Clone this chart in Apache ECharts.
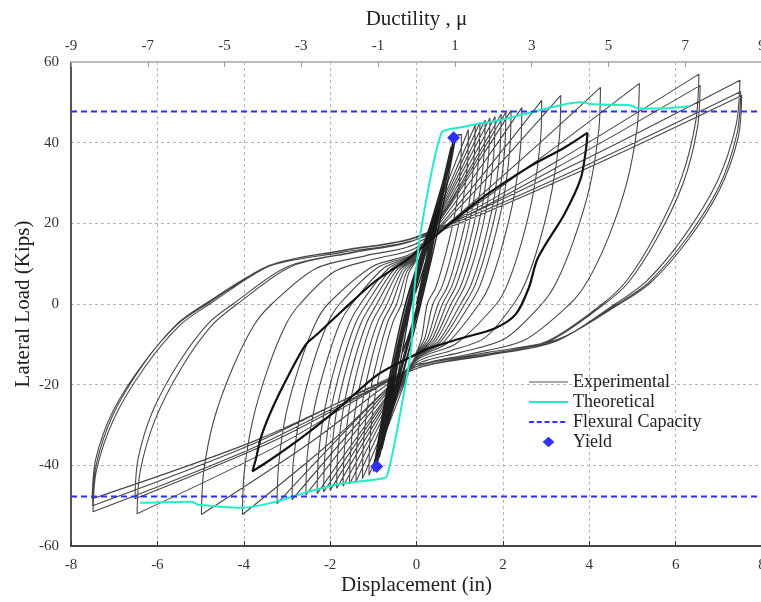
<!DOCTYPE html>
<html><head><meta charset="utf-8">
<script src="https://cdn.jsdelivr.net/npm/echarts@6/dist/echarts.min.js"></script>
<style>html,body{margin:0;padding:0;background:#fff}#c{width:761px;height:602px}</style>
</head><body><div id="c"></div>
<script>
// x tick labels (bottom, displacement) and top (ductility), y ticks
const dispTicks = [-8,-6,-4,-2,0,2,4,6,8];
const ductTicks = [-9,-7,-5,-3,-1,1,3,5,7,9];
const loadTicks = [-60,-40,-20,0,20,40,60];

// Experimental: elastic cycles (displacement in, load kips)
const elasticCycles = [
[0,0],[0.12,6],[0.25,12],[0.05,5],[-0.13,0],[-0.32,-12],[-0.1,-5],[0.02,0],[0.2,10],[0.4,20],[0.12,9],[-0.12,0],[-0.3,-10],[-0.47,-20],[-0.2,-9],[0.02,0],
[0.3,14],[0.55,28],[0.25,14],[-0.14,0],[-0.42,-14],[-0.62,-28],[-0.32,-14],[0.02,0],[0.35,17],[0.67,33],[0.3,17],[-0.15,0],[-0.47,-17],[-0.74,-33],[-0.38,-17],[0.03,0],
[0.4,19],[0.76,37],[0.33,18],[-0.16,0],[-0.5,-18],[-0.8,-36],[-0.4,-18],[0.02,0],[0.42,20],[0.8,39],[0.35,19],[-0.17,0],[-0.54,-19],[-0.86,-38],[-0.43,-19],[0.03,0],
[0.45,21],[0.85,40.5],[0.37,20],[-0.17,0],[-0.56,-20],[-0.92,-40],[-0.45,-20],[0.04,0],[0.47,21],[0.87,41],[0.38,20],[-0.18,0],[-0.58,-20],[-0.95,-41],[-0.45,-20],[0.05,0],
[0.46,21],[0.86,40.8],[0.36,20],[-0.19,0],[-0.6,-20],[-0.97,-41.3],[-0.47,-20],[0.04,0],
[0.4,18],[0.8,38],[0.32,18],[-0.2,0],[-0.6,-19],[-0.9,-39],[-0.42,-19],[0.06,0],[0.44,19],[0.84,40],[0.34,19],[-0.2,0],[-0.62,-20],[-0.93,-40],[-0.44,-20],[0.06,0],
[0.42,17],[0.86,40],[0.3,18],[-0.25,0],[-0.66,-20],[-0.96,-40.5],[-0.38,-20],[0.1,0],[0.55,21],[0.9,41],[0.3,19],[-0.26,0],[-0.68,-21],[-1.0,-41.5],[-0.4,-20],[0.1,0],
[0.5,21],[0.9,41.5],[0.36,20],[-0.21,0],[-0.63,-20],[-0.98,-41.5],[-0.46,-20],[0.07,0],[0.5,22],[0.88,41.5],[1.04,42]
];
// Experimental: post-yield cycles with growing amplitude
const fanCycles = [
[[1.04,42],[1.02,33.6],[0.90,23.1],[0.68,12.6],[0.45,4.2],[0.25,0],[0.12,-8.4],[0,-12],[-1.1,-42.5],[-1.08,-34],[-0.97,-23.4],[-0.76,-12.8],[-0.54,-4.3],[-0.35,0],[-0.18,7.7],[0,11]],
[[1.2,43.2],[1.18,34.6],[1.05,23.8],[0.83,13],[0.59,4.3],[0.38,0],[0.19,-8.5],[0,-12.2],[-1.25,-43.3],[-1.23,-34.6],[-1.11,-23.8],[-0.89,-13],[-0.66,-4.3],[-0.46,0],[-0.23,7.9],[0,11.3]],
[[1.36,44.4],[1.33,35.5],[1.21,24.4],[0.97,13.3],[0.72,4.4],[0.5,0],[0.25,-8.6],[0,-12.4],[-1.4,-44],[-1.38,-35.2],[-1.25,-24.2],[-1.03,-13.2],[-0.78,-4.4],[-0.57,0],[-0.29,8],[0,11.5]],
[[1.47,45],[1.44,36],[1.31,24.8],[1.08,13.5],[0.82,4.5],[0.6,0],[0.3,-8.8],[0,-12.5],[-1.55,-44.6],[-1.52,-35.7],[-1.39,-24.5],[-1.16,-13.4],[-0.9,-4.5],[-0.68,0],[-0.34,8.2],[0,11.7]],
[[1.59,45.6],[1.56,36.5],[1.43,25.1],[1.19,13.7],[0.92,4.6],[0.7,0],[0.35,-8.9],[0,-12.7],[-1.7,-45.2],[-1.67,-36.2],[-1.54,-24.9],[-1.3,-13.6],[-1.03,-4.5],[-0.8,0],[-0.4,8.3],[0,11.9]],
[[1.7,46.1],[1.67,36.9],[1.54,25.4],[1.3,13.8],[1.03,4.6],[0.8,0],[0.4,-9],[0,-12.8],[-1.85,-45.7],[-1.82,-36.6],[-1.68,-25.1],[-1.43,-13.7],[-1.15,-4.6],[-0.92,0],[-0.46,8.4],[0,12]],
[[1.82,46.5],[1.79,37.2],[1.65,25.6],[1.41,14],[1.13,4.7],[0.9,0],[0.45,-9.1],[0,-13],[-2.0,-46.2],[-1.97,-37],[-1.83,-25.4],[-1.57,-13.9],[-1.28,-4.6],[-1.04,0],[-0.52,8.5],[0,12.2]],
[[1.96,47.1],[1.93,37.7],[1.79,25.9],[1.54,14.1],[1.26,4.7],[1.02,0],[0.51,-9.2],[0,-13.1],[-2.15,-46.6],[-2.12,-37.3],[-1.97,-25.6],[-1.7,-14],[-1.41,-4.7],[-1.16,0],[-0.58,8.7],[0,12.4]],
[[2.07,47.6],[2.04,38.1],[1.9,26.2],[1.64,14.3],[1.36,4.8],[1.12,0],[0.56,-9.3],[0,-13.3],[-2.3,-47],[-2.27,-37.6],[-2.12,-25.9],[-1.85,-14.1],[-1.55,-4.7],[-1.3,0],[-0.65,8.8],[0,12.6]],
[[2.19,48],[2.16,38.4],[2.02,26.4],[1.76,14.4],[1.48,4.8],[1.24,0],[0.62,-9.5],[0,-13.5],[-2.56,-47.3],[-2.53,-37.8],[-2.37,-26],[-2.08,-14.2],[-1.77,-4.7],[-1.5,0],[-0.75,9],[0,12.8]],
[[2.44,48.7],[2.41,39],[2.26,26.8],[1.99,14.6],[1.7,4.9],[1.45,0],[0.72,-9.6],[0,-13.7],[-2.88,-48.5],[-2.85,-38.8],[-2.68,-26.7],[-2.39,-14.6],[-2.06,-4.9],[-1.78,0],[-0.89,9.1],[0,13]],
[[2.9,50.5],[2.87,40.4],[2.71,27.8],[2.43,15.2],[2.11,5],[1.85,0],[0.92,-9.8],[0,-14],[-3.23,-49.5],[-3.19,-39.6],[-3.02,-27.2],[-2.7,-14.9],[-2.35,-5],[-2.05,0],[-1.02,9.3],[0,13.3]]
];
// Experimental: large cycles
const largeCycles = [
[[3.34,51.7],[3.31,41.4],[3.14,28.4],[2.85,15.5],[2.52,5.2],[2.25,0],[1.58,-8.4],[0.79,-11.6],[0,-14.5],[-2.0,-34.4],[-4.03,-52.2],[-3.99,-41.8],[-3.79,-28.7],[-3.43,-15.7],[-3.03,-5.2],[-2.7,0],[-1.89,8.1],[-0.95,11.2],[0,14],[2.13,33]],
[[4.26,53.7],[4.22,43],[4.02,29.5],[3.65,16.1],[3.24,5.4],[2.9,0],[2.03,-8.7],[1.02,-12],[0,-15],[-2.49,-34.6],[-4.98,-52.2],[-4.93,-41.8],[-4.69,-28.7],[-4.25,-15.7],[-3.76,-5.2],[-3.35,0],[-2.35,8.7],[-1.17,12],[0,15],[2.58,33.9]],
[[5.16,54.7],[5.11,43.8],[4.87,30.1],[4.44,16.4],[3.95,5.5],[3.55,0],[2.49,-9],[1.24,-12.4],[0,-15.5],[-3.24,-35.3],[-6.47,-52],[-6.4,-41.6],[-6.05,-28.6],[-5.43,-15.6],[-4.73,-5.2],[-4.15,0],[-2.9,9.3],[-1.45,12.8],[0,16],[3.27,35.5]],
[[6.54,57],[6.47,45.6],[6.14,31.4],[5.53,17.1],[4.86,5.7],[4.3,0],[3.01,-9.3],[1.5,-12.8],[0,-16],[-3.26,-33.7],[-6.52,-48.3],[-6.45,-38.6],[-6.11,-26.6],[-5.5,-14.5],[-4.82,-4.8],[-4.25,0],[-2.98,9.3],[-1.49,12.8],[0,16],[3.29,34.1]],
[[6.57,54.2],[6.5,43.4],[6.17,29.8],[5.57,16.3],[4.91,5.4],[4.35,0],[3.05,-9.3],[1.52,-12.8],[0,-16],[-3.75,-35.5],[-7.49,-51.5],[-7.41,-41.2],[-7.0,-28.3],[-6.28,-15.5],[-5.47,-5.2],[-4.79,0],[-3.35,9.7],[-1.68,13.4],[0,16.7],[3.75,35.1]],
[[7.49,55.5],[7.4,44.4],[6.97,30.5],[6.19,16.7],[5.32,5.6],[4.6,0],[3.22,-9.3],[1.61,-12.8],[0,-16],[-3.76,-34],[-7.51,-48.3],[-7.43,-38.6],[-7.03,-26.6],[-6.31,-14.5],[-5.51,-4.8],[-4.85,0],[-3.4,9.6],[-1.7,13.2],[0,16.5],[3.76,33.6]],
[[7.51,52.7],[7.42,42.2],[7.0,29],[6.22,15.8],[5.37,5.3],[4.65,0],[3.26,-9],[1.63,-12.4],[0,-15.5],[-3.75,-34.5],[-7.5,-50],[-7.42,-40],[-7.03,-27.5],[-6.33,-15],[-5.55,-5],[-4.9,0],[-3.43,9.3],[-1.72,12.8],[0,16],[3.77,32.8]],
[[7.53,51.7],[7.45,41.4],[7.02,28.4],[6.26,15.5],[5.41,5.2],[4.7,0],[3.29,-8.7],[1.65,-12],[0,-15]]
];
// Experimental: the highlighted (bold) cycle
const boldCycle = [
[3.96,42.5],[3.92,38],[3.8,31],[3.43,22.4],[2.81,11.4],[2.6,4],[2.3,-2.5],[1.82,-6],[1.04,-8.5],[0.28,-11],[0,-12.4],[-0.88,-17.4],[-1.8,-25.8],[-2.56,-32.3],[-3.34,-38.3],[-3.8,-41.5],
[-3.72,-38.5],[-3.6,-33],[-3.34,-25.9],[-2.95,-17.4],[-2.56,-10],[-2.3,-7.5],[-1.7,-1.5],[-0.95,5.7],[-0.25,10.7],[0.12,14],[1.43,25.6],[2.58,33.8],[3.43,38.8],[3.96,42.5]
];
// Theoretical curve
const theoretical = [
[-6.4,-49.3],[-5.2,-49],[-5.05,-49.8],[-4.03,-50.5],[-3.25,-49],[-2.49,-46.5],[-1.73,-44.5],[-0.94,-43.5],[-0.69,-42.8],[-0.41,-29],[-0.12,-10.9],[-0.07,0.7],[0.09,17.4],[0.58,42.5],
[1.04,43.8],[1.5,44.8],[1.82,45.3],[2.58,47.3],[3.34,49.3],[3.8,50],[4.12,49.5],[4.95,49.3],[5.12,48.5],[5.74,48.5],[6.31,49]
];
// Flexural capacity (kips) and yield points
const flexuralCapacity = 47.7;
const yieldPoints = [[0.86,41.2],[-0.92,-40.3]];

const experimental = [];
fanCycles.forEach(c => c.forEach(p => experimental.push(p)));
largeCycles.forEach(c => c.forEach(p => experimental.push(p)));

const F = 'Liberation Serif';
const EXT0 = 'M0,0L0.01,0', EXT1 = 'M40,12L39.99,12';
const BLUE = '#2f2ff8';
const chart = echarts.init(document.getElementById('c'), null, {renderer:'canvas'});
chart.setOption({
  animation:false,
  backgroundColor:'#fff',
  textStyle:{fontFamily:F},
  grid:{left:71,right:-1,top:62,bottom:56,containLabel:false,outerBoundsMode:'none'},
  legend:{
    orient:'vertical', left:529, top:373, padding:0, itemWidth:39, itemHeight:12, itemGap:2,
    itemStyle:{borderWidth:0,opacity:1},
    textStyle:{fontFamily:F,fontSize:18,color:'#222',lineHeight:18},
    data:[
      {name:'Experimental', icon:'path://'+EXT0+'M0,5.4h40v1.2h-40z'+EXT1},
      {name:'Theoretical', icon:'path://'+EXT0+'M0,5h40v2h-40z'+EXT1},
      {name:'Flexural Capacity', icon:'path://'+EXT0+'M0,5h5v2h-5zM8,5h5v2h-5zM16,5h5v2h-5zM24,5h5v2h-5zM32,5h5v2h-5z'+EXT1},
      {name:'Yield', icon:'path://'+EXT0+'M20,0.5L26,6L20,11.5L14,6Z'+EXT1}
    ]
  },
  xAxis:[{
    type:'value', min:dispTicks[0], max:dispTicks[dispTicks.length-1], interval:2, position:'bottom',
    axisLine:{show:true,onZero:false,lineStyle:{color:'#444',width:2,type:[2,1]}},
    axisTick:{show:true,inside:true,length:5,lineStyle:{color:'#333'}},
    axisLabel:{fontFamily:F,fontSize:15,color:'#333',margin:12,showMaxLabel:true},
    splitLine:{show:true,lineStyle:{color:'#b5b5b5',width:1,type:[3,3]}},
    name:'Displacement (in)', nameLocation:'middle', nameGap:29, nameMoveOverlap:false,
    nameTextStyle:{fontFamily:F,fontSize:21,color:'#222'}
  },{
    type:'value', min:ductTicks[0], max:ductTicks[ductTicks.length-1], interval:2, position:'top',
    axisLine:{show:true,onZero:false,lineStyle:{color:'#bbb',width:2}},
    axisTick:{show:true,inside:true,length:5,lineStyle:{color:'#999'}},
    axisLabel:{fontFamily:F,fontSize:15,color:'#333',margin:8,showMaxLabel:true},
    splitLine:{show:false},
    name:'Ductility , μ', nameLocation:'middle', nameGap:32, nameMoveOverlap:false,
    nameTextStyle:{fontFamily:F,fontSize:21,color:'#222'}
  }],
  yAxis:{
    type:'value', min:loadTicks[0], max:loadTicks[loadTicks.length-1], interval:20,
    axisLine:{show:true,onZero:false,lineStyle:{color:'#555',width:2}},
    axisTick:{show:false},
    axisLabel:{fontFamily:F,fontSize:15,color:'#333',margin:12},
    splitLine:{show:true,lineStyle:{color:'#b5b5b5',width:1,type:[3,3]}},
    name:'Lateral Load (Kips)', nameLocation:'middle', nameGap:37, nameRotate:90, nameMoveOverlap:false,
    nameTextStyle:{fontFamily:F,fontSize:21,color:'#222'}
  },
  series:[
    {name:'Experimental',type:'line',xAxisIndex:0,data:elasticCycles,showSymbol:false,symbol:'none',smooth:0.3,
     lineStyle:{color:'rgba(0,0,0,0.85)',width:1.3},itemStyle:{color:'#555'},z:2},
    {name:'Experimental',type:'line',xAxisIndex:0,data:experimental,showSymbol:false,symbol:'none',smooth:0.3,
     lineStyle:{color:'rgba(20,20,20,0.78)',width:1.1},itemStyle:{color:'#555'},z:2},
    {name:'ExperimentalBold',type:'line',xAxisIndex:0,data:boldCycle,symbol:'none',smooth:0.3,
     lineStyle:{color:'#111',width:2.2},z:3},
    {name:'Theoretical',type:'line',xAxisIndex:0,data:theoretical,symbol:'none',smooth:0.2,
     lineStyle:{color:'#22ecc6',width:2},itemStyle:{color:'#22ecc6'},z:4},
    {name:'Flexural Capacity',type:'line',xAxisIndex:0,data:[[-8,flexuralCapacity],[8,flexuralCapacity]],symbol:'none',
     lineStyle:{color:BLUE,width:2,type:[6,4]},itemStyle:{color:BLUE},z:5},
    {name:'Flexural Capacity',type:'line',xAxisIndex:0,data:[[-8,-flexuralCapacity],[8,-flexuralCapacity]],symbol:'none',
     lineStyle:{color:BLUE,width:2,type:[6,4]},itemStyle:{color:BLUE},z:5},
    {name:'Yield',type:'scatter',xAxisIndex:0,data:yieldPoints,symbol:'diamond',symbolSize:13,
     itemStyle:{color:BLUE,opacity:1},z:6}
  ]
});
</script></body></html>
